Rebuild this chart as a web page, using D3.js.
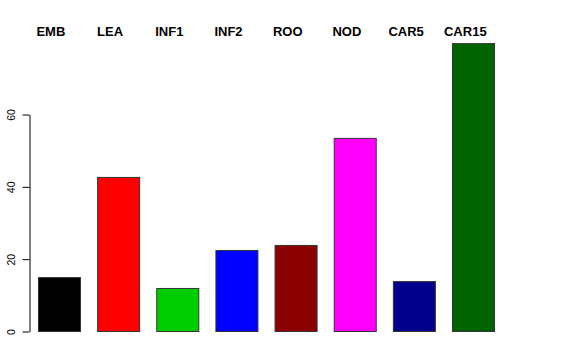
<!DOCTYPE html>
<html>
<head>
<meta charset="utf-8">
<script src="https://cdn.jsdelivr.net/npm/d3@7"></script>
<style>
  body { margin: 0; background: #fff; }
  text { font-family: "Liberation Sans", Arial, sans-serif; }
</style>
</head>
<body>
<div id="chart"></div>
<script>
// data
const categories = ["EMB", "LEA", "INF1", "INF2", "ROO", "NOD", "CAR5", "CAR15"];
const values = [14.9, 42.6, 11.9, 22.4, 23.8, 53.4, 13.8, 79.6];
const barColors = ["#000000", "#ff0000", "#00cd00", "#0000ff", "#8b0000", "#ff00ff", "#00008b", "#006400"];
const yTicks = [0, 20, 40, 60];

const width = 576, height = 360;

const svg = d3.select("#chart")
  .append("svg")
    .attr("width", width)
    .attr("height", height);

// x scale for bars
let x = d3.scaleBand()
  .domain(categories)
  .range([29.4, 502.6])
  .paddingInner(0.29)
  .paddingOuter(0.145);

// y scale
let y = d3.scaleLinear()
  .domain([0, 60])
  .range([331, 114]);

// label positions (same step as bars, shifted a little to the left)
let xLab = d3.scalePoint()
  .domain(categories)
  .range([50.9, 465.3]);

// bars
svg.selectAll("rect.bar")
  .data(values)
  .enter()
  .append("rect")
    .attr("class", "bar")
    .attr("x", (d, i) => x(categories[i]) + 0.5)
    .attr("y", d => y(d) + 0.5)
    .attr("width", x.bandwidth())
    .attr("height", d => y(0) - y(d))
    .attr("fill", (d, i) => barColors[i])
    .attr("stroke", "#333")
    .attr("stroke-width", 1);

// y axis
const yAxis = svg.append("g")
  .attr("transform", "translate(29.5,0.5)")
  .call(d3.axisLeft(y).tickValues(yTicks).tickSize(7).tickSizeOuter(0));

yAxis.select(".domain").attr("stroke", "#000");
yAxis.selectAll(".tick line").attr("stroke", "#000");
yAxis.selectAll(".tick text")
  .attr("fill", "#000")
  .style("font-size", "10.5px")
  .attr("x", 0)
  .attr("dy", 0)
  .attr("text-anchor", "middle")
  .attr("transform", "translate(-15,0) rotate(-90)");

// category labels on top
svg.selectAll("text.cat")
  .data(categories)
  .enter()
  .append("text")
    .attr("class", "cat")
    .attr("x", d => xLab(d))
    .attr("y", 36)
    .attr("text-anchor", "middle")
    .style("font-size", "13px")
    .style("font-weight", "bold")
    .text(d => d);
</script>
</body>
</html>
